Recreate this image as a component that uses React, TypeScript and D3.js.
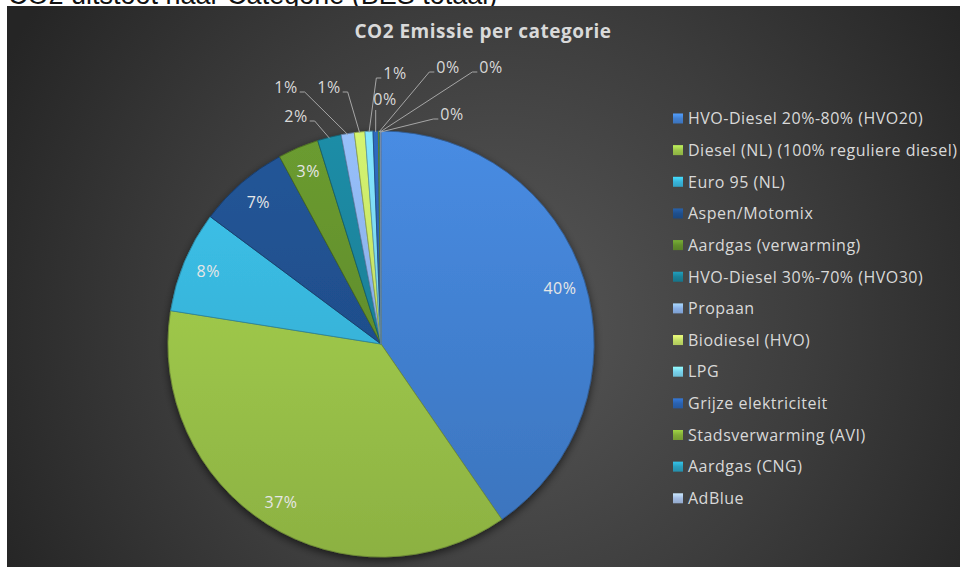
import { useEffect, useRef } from 'react';
import * as d3 from 'd3';

const pageTitle = 'CO2 uitstoot naar Categorie (BES totaal)';
const chartTitle = 'CO2 Emissie per categorie';

const categories = [
  'HVO-Diesel 20%-80% (HVO20)',
  'Diesel (NL) (100% reguliere diesel)',
  'Euro 95 (NL)',
  'Aspen/Motomix',
  'Aardgas (verwarming)',
  'HVO-Diesel 30%-70% (HVO30)',
  'Propaan',
  'Biodiesel (HVO)',
  'LPG',
  'Grijze elektriciteit',
  'Stadsverwarming (AVI)',
  'Aardgas (CNG)',
  'AdBlue',
];

// share of total emission, in percent
const values = [40.4, 37.1, 7.7, 6.9, 3.1, 1.8, 1.0, 0.8, 0.6, 0.4, 0.1, 0.06, 0.04];

const colors = [
  '#4280d0', '#9cc54a', '#38b4da', '#1f4f8c', '#628f2c', '#1a8199',
  '#8ab0e6', '#c3df66', '#78d2ec', '#2a62b0', '#82ad38', '#2a9fbe', '#a4bce2',
];

// label anchors (text centre, relative to pie centre) for the small slices
const outsideLabels: ([number, number] | null)[] = [
  null, null, null, null, null,
  [-85, -228], [-95, -257], [-52, -257], [14, -271],
  [4, -245], [67, -277], [110, -277], [71, -230],
];

const width = 960;
const height = 567;

export default function App() {
  const svgRef = useRef<SVGSVGElement>(null);

  useEffect(() => {
    const svg = d3.select(svgRef.current);
    svg.selectAll('*').remove();

    const cx = 381;
    const cy = 344;
    const radius = 213;
    const font = '"Open Sans", "DejaVu Sans", sans-serif';

    const defs = svg.append('defs');

    // Background gradient
    const bg = defs.append('radialGradient')
      .attr('id', 'bg')
      .attr('gradientUnits', 'userSpaceOnUse')
      .attr('cx', 500)
      .attr('cy', 320)
      .attr('r', 560);
    bg.append('stop').attr('offset', '0%').attr('stop-color', '#575757');
    bg.append('stop').attr('offset', '55%').attr('stop-color', '#3d3d3d');
    bg.append('stop').attr('offset', '100%').attr('stop-color', '#252525');

    const shadow = defs.append('filter')
      .attr('id', 'pie-shadow')
      .attr('x', '-20%').attr('y', '-20%')
      .attr('width', '140%').attr('height', '140%');
    shadow.append('feDropShadow')
      .attr('dx', 0).attr('dy', 3)
      .attr('stdDeviation', 4)
      .attr('flood-color', '#000')
      .attr('flood-opacity', 0.6);

    colors.forEach((c, i) => {
      const grad = defs.append('linearGradient')
        .attr('id', `slice-${i}`)
        .attr('gradientUnits', 'userSpaceOnUse')
        .attr('x1', 0).attr('y1', -radius)
        .attr('x2', 0).attr('y2', radius);
      grad.append('stop').attr('offset', '0%').attr('stop-color', d3.color(c)!.brighter(0.25).toString());
      grad.append('stop').attr('offset', '100%').attr('stop-color', d3.color(c)!.darker(0.3).toString());

      const mark = defs.append('linearGradient')
        .attr('id', `mark-${i}`)
        .attr('x1', 0).attr('y1', 0)
        .attr('x2', 0).attr('y2', 1);
      mark.append('stop').attr('offset', '0%').attr('stop-color', d3.color(c)!.brighter(0.6).toString());
      mark.append('stop').attr('offset', '50%').attr('stop-color', c);
      mark.append('stop').attr('offset', '100%').attr('stop-color', d3.color(c)!.darker(0.3).toString());
    });

    // Page heading (cut off by the chart box, as in the screenshot)
    svg.append('text')
      .attr('x', 8)
      .attr('y', 4)
      .style('font-family', 'Arial, "Liberation Sans", sans-serif')
      .style('font-size', '27px')
      .attr('fill', '#111')
      .text(pageTitle);

    svg.append('rect')
      .attr('x', 7).attr('y', 6)
      .attr('width', width - 7).attr('height', height - 6)
      .attr('fill', 'url(#bg)');

    // Chart title
    svg.append('text')
      .attr('x', 483)
      .attr('y', 38)
      .attr('text-anchor', 'middle')
      .style('font-family', font)
      .style('font-size', '19px')
      .style('font-weight', 'bold')
      .style('letter-spacing', '0.5px')
      .attr('fill', '#d9d9d9')
      .text(chartTitle);

    const data = values.map((v, i) => ({ label: categories[i], value: v, index: i }));
    const total = d3.sum(values);

    const pie = d3.pie<typeof data[number]>()
      .value(d => d.value)
      .sort(null);

    const arc = d3.arc<d3.PieArcDatum<typeof data[number]>>()
      .innerRadius(0)
      .outerRadius(radius);

    const labelArc = d3.arc<d3.PieArcDatum<typeof data[number]>>()
      .innerRadius(radius * 0.88)
      .outerRadius(radius * 0.88);

    const arcs = pie(data);

    const g = svg.append('g')
      .attr('transform', `translate(${cx}, ${cy})`);

    g.append('g')
      .attr('filter', 'url(#pie-shadow)')
      .selectAll('path')
      .data(arcs)
      .enter().append('path')
      .attr('d', d => arc(d) || '')
      .attr('fill', d => `url(#slice-${d.index})`)
      .attr('stroke', d => d3.color(colors[d.index])!.darker(0.9).toString())
      .attr('stroke-width', 0.8)
      .attr('stroke-linejoin', 'round');

    const pct = (v: number) => Math.round((v / total) * 100) + '%';

    const labelStyle = (sel: d3.Selection<SVGTextElement, any, any, any>) => sel
      .style('font-family', font)
      .style('font-size', '16px')
      .style('letter-spacing', '0.5px');

    // Labels inside the big slices
    g.selectAll('.inner-label')
      .data(arcs.filter(d => !outsideLabels[d.index]))
      .enter().append('text')
      .attr('class', 'inner-label')
      .attr('transform', d => `translate(${labelArc.centroid(d)})`)
      .attr('text-anchor', 'middle')
      .attr('dy', '0.36em')
      .attr('fill', '#e6e6e6')
      .call(labelStyle)
      .text(d => pct(d.value));

    // Labels with leader lines for the small slices
    arcs.filter(d => outsideLabels[d.index]).forEach(d => {
      const [lx, ly] = outsideLabels[d.index]!;
      const mid = (d.startAngle + d.endAngle) / 2;
      const ex = Math.sin(mid) * (radius - 1);
      const ey = -Math.cos(mid) * (radius - 1);

      const t = g.append('text')
        .attr('x', lx)
        .attr('y', ly)
        .attr('text-anchor', 'middle')
        .attr('dy', '0.36em')
        .attr('fill', '#d9d9d9')
        .call(labelStyle)
        .text(pct(d.value));
      const w = (t.node() as SVGTextElement).getComputedTextLength();

      let pts: [number, number][];
      if (Math.abs(lx - ex) < w / 2) {
        pts = [[ex, ly + 11], [ex, ey]];
      } else if (lx < ex) {
        const sx = lx + w / 2 + 2;
        pts = [[sx, ly + 5], [sx + 5, ly + 5], [ex, ey]];
      } else {
        const sx = lx - w / 2 - 2;
        pts = [[sx, ly + 5], [sx - 5, ly + 5], [ex, ey]];
      }
      g.append('path')
        .attr('d', d3.line()(pts) || '')
        .attr('fill', 'none')
        .attr('stroke', '#a6a6a6')
        .attr('stroke-width', 1);
    });

    // Legend
    const legendX = 673;
    const legendY = 118.5;
    const rowH = 31.65;
    const legend = svg.append('g').attr('class', 'legend');
    const items = legend.selectAll('.legend-item')
      .data(data)
      .enter().append('g')
      .attr('class', 'legend-item')
      .attr('transform', (d, i) => `translate(${legendX}, ${legendY + i * rowH})`);

    items.append('rect')
      .attr('x', 0)
      .attr('y', -5)
      .attr('width', 10)
      .attr('height', 10)
      .attr('fill', d => `url(#mark-${d.index})`);

    items.append('text')
      .attr('x', 15)
      .attr('dy', '0.36em')
      .attr('fill', '#d9d9d9')
      .call(labelStyle)
      .text(d => d.label);
  }, []);

  return (
    <div style={{ position: 'absolute', left: 0, top: 0 }}>
      <svg ref={svgRef} width={width} height={height} style={{ display: 'block' }} />
    </div>
  );
}
